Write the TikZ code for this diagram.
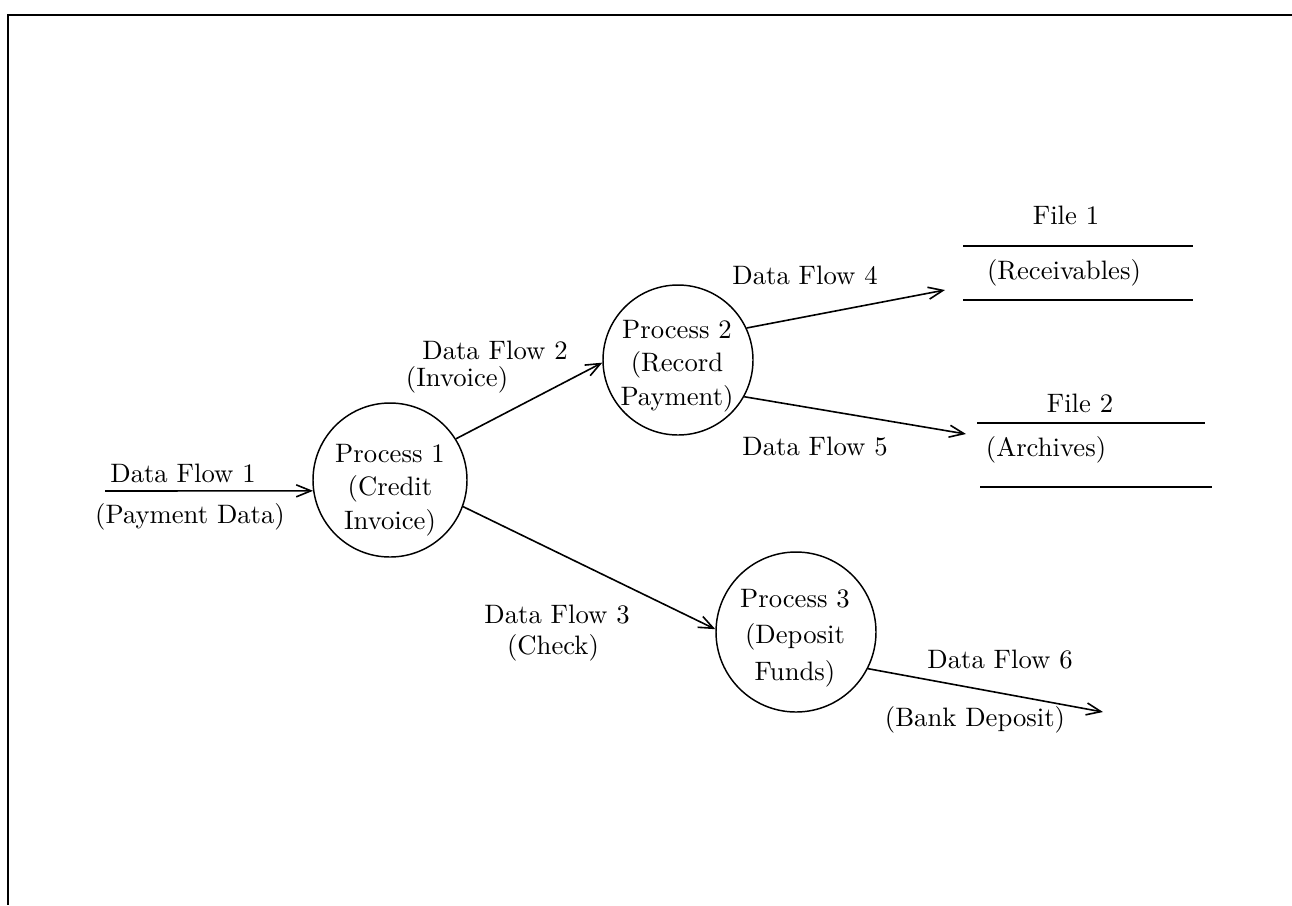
\documentclass[tikz,border=0pt]{standalone}
\usetikzlibrary{arrows.meta}

\begin{document}
\begin{tikzpicture}[
  x=0.375pt, y=-0.375pt,
  every node/.style={inner sep=0pt, font=\fontsize{10}{12.5}\selectfont},
  process/.style={draw, circle, line width=0.55pt},
  ptext/.style={align=center},
  flow/.style={line width=0.6pt, -{Straight Barb[length=5.5pt,width=4.5pt]}},
  label/.style={anchor=center},
  storeline/.style={line width=0.7pt},
  frame/.style={line width=1.1pt}
]
  \useasboundingbox (0,0) rectangle (1292,905);

  % page frame (top and left edges)
  \draw[frame] (7,15) -- (1292,15);
  \draw[frame] (8,15) -- (8,905);

  % processes
  \node[process, minimum size=154*0.375pt] (p1) at (390,480) {};
  \node[process, minimum size=150*0.375pt] (p2) at (678,360) {};
  \node[process, minimum size=160*0.375pt] (p3) at (796,632) {};
  \node[ptext] (p1t) at (390,490) {Process 1\\(Credit\\Invoice)};
  \node[ptext] (p2t) at (677,366) {Process 2\\(Record\\Payment)};
  \node[ptext, font=\fontsize{10}{13.6}\selectfont] (p3t) at (795,638) {Process 3\\(Deposit\\Funds)};

  % data stores
  \node[label] (f1) at (1066,215) {File 1};
  \node[label] (f1n) at (1064,273) {(Receivables)};
  \draw[storeline] (963,246) -- (1193,246);
  \draw[storeline] (963,300) -- (1193,300);

  \node[label] (f2) at (1080,403) {File 2};
  \node[label] (f2n) at (1046,450) {(Archives)};
  \draw[storeline] (977,423) -- (1205,423);
  \draw[storeline] (980,487) -- (1212,487);

  % free ends of flows
  \coordinate (src1) at (105,491);
  \coordinate (dst4) at (945,290);
  \coordinate (dst5) at (966,434);
  \coordinate (dst6) at (1103,712);

  % data flows
  \draw[flow] (src1) -- (p1.188);
  \draw[flow] (p1.32) -- (p2.182);
  \draw[flow] (p1.-20) -- (p3.178);
  \draw[flow] (p2.25) -- (dst4);
  \draw[flow] (p2.-29) -- (dst5);
  \draw[flow] (p3.-27) -- (dst6);

  % flow labels
  \node[label] (l1a) at (183,473) {Data Flow 1};
  \node[label] (l1b) at (190,517) {(Payment Data)};
  \node[label] (l2a) at (495,350) {Data Flow 2};
  \node[label] (l2b) at (457,380) {(Invoice)};
  \node[label] (l3a) at (557,615) {Data Flow 3};
  \node[label] (l3b) at (553,648) {(Check)};
  \node[label] (l4a) at (805,275) {Data Flow 4};
  \node[label] (l5a) at (815,447) {Data Flow 5};
  \node[label] (l6a) at (1000,660) {Data Flow 6};
  \node[label] (l6b) at (975,720) {(Bank Deposit)};
\end{tikzpicture}
\end{document}
